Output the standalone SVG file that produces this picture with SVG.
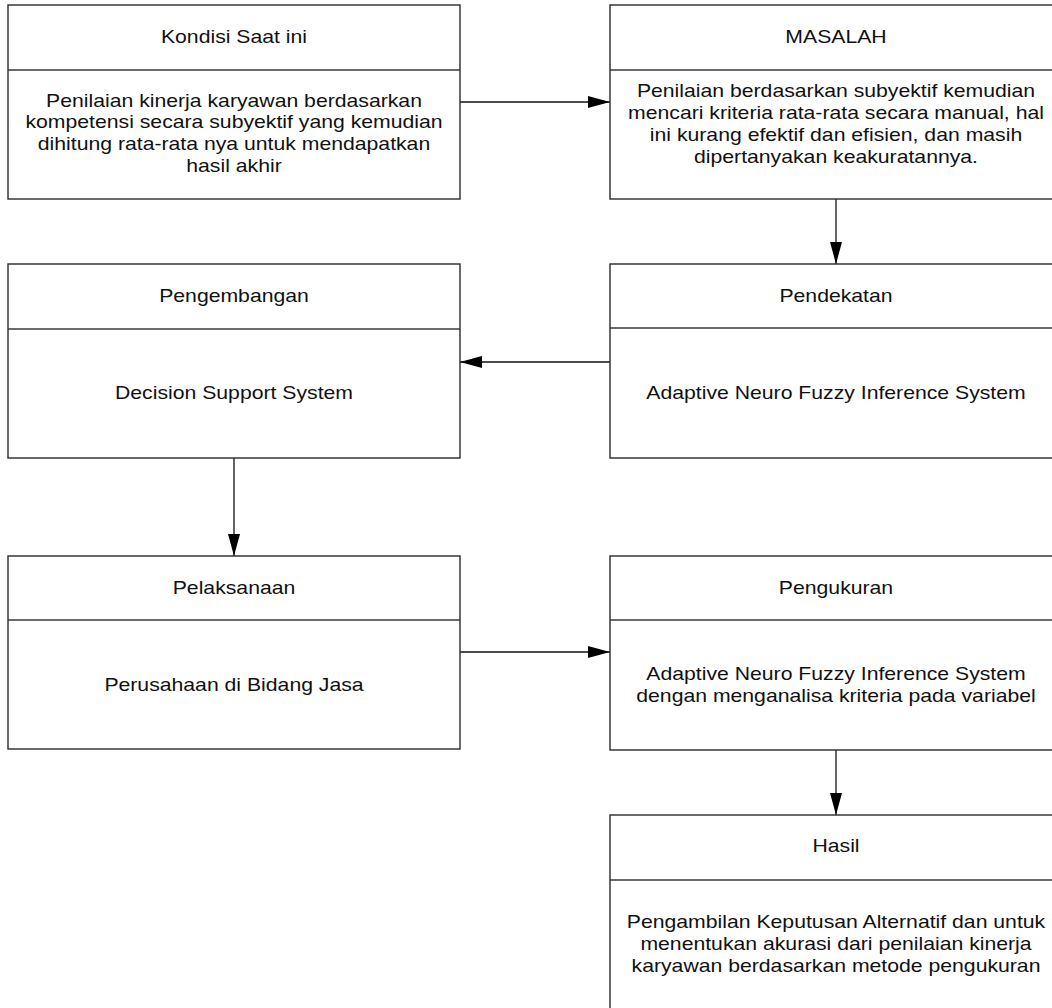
<svg xmlns="http://www.w3.org/2000/svg" width="1052" height="1008" viewBox="0 0 1052 1008">
<style>
.box{fill:#fff;stroke:#2a2a2a;stroke-width:1.4}
.div{stroke:#3a3a3a;stroke-width:1.4}
.t{font-family:"Liberation Sans",Arial,sans-serif;font-size:18.6px;fill:#111;text-anchor:middle}
.c{stroke:#111;stroke-width:1.3;fill:none}
</style>
<defs>
<marker id="ah" markerUnits="userSpaceOnUse" markerWidth="22" markerHeight="12" refX="22" refY="6" orient="auto">
<path d="M0,0 L22,6 L0,12 z" fill="#000"/>
</marker>
</defs>
<rect width="1052" height="1008" fill="#fff"/>
<g id="connectors">
<line class="c" x1="460" y1="102" x2="610" y2="102" marker-end="url(#ah)"/>
<line class="c" x1="836" y1="199" x2="836" y2="264" marker-end="url(#ah)"/>
<line class="c" x1="610" y1="362" x2="460" y2="362" marker-end="url(#ah)"/>
<line class="c" x1="234" y1="458" x2="234" y2="556" marker-end="url(#ah)"/>
<line class="c" x1="460" y1="652" x2="610" y2="652" marker-end="url(#ah)"/>
<line class="c" x1="836" y1="750" x2="836" y2="815" marker-end="url(#ah)"/>
</g>
<g id="kondisi">
<rect class="box" x="8" y="5" width="452" height="194"/>
<line class="div" x1="8" y1="70" x2="460" y2="70"/>
<g transform="translate(234 0) scale(1.14 1)">
<text class="t" x="0" y="43.3">Kondisi Saat ini</text>
<text class="t" x="0" y="106.7">Penilaian kinerja karyawan berdasarkan</text>
<text class="t" x="0" y="128.4">kompetensi secara subyektif yang kemudian</text>
<text class="t" x="0" y="150">dihitung rata-rata nya untuk mendapatkan</text>
<text class="t" x="0" y="171.7">hasil akhir</text>
</g>
</g>
<g id="masalah">
<rect class="box" x="610" y="5" width="452" height="194"/>
<line class="div" x1="610" y1="70" x2="1062" y2="70"/>
<g transform="translate(836 0) scale(1.14 1)">
<text class="t" x="0" y="43.3">MASALAH</text>
<text class="t" x="0" y="97.5">Penilaian berdasarkan subyektif kemudian</text>
<text class="t" x="0" y="119.2">mencari kriteria rata-rata secara manual, hal</text>
<text class="t" x="0" y="140.9">ini kurang efektif dan efisien, dan masih</text>
<text class="t" x="0" y="162.6">dipertanyakan keakuratannya.</text>
</g>
</g>
<g id="pengembangan">
<rect class="box" x="8" y="264" width="452" height="194"/>
<line class="div" x1="8" y1="329" x2="460" y2="329"/>
<g transform="translate(234 0) scale(1.14 1)">
<text class="t" x="0" y="301.7">Pengembangan</text>
<text class="t" x="0" y="399.3">Decision Support System</text>
</g>
</g>
<g id="pendekatan">
<rect class="box" x="610" y="264" width="452" height="194"/>
<line class="div" x1="610" y1="328" x2="1062" y2="328"/>
<g transform="translate(836 0) scale(1.14 1)">
<text class="t" x="0" y="301.7">Pendekatan</text>
<text class="t" x="0" y="399.3">Adaptive Neuro Fuzzy Inference System</text>
</g>
</g>
<g id="pelaksanaan">
<rect class="box" x="8" y="556" width="452" height="193"/>
<line class="div" x1="8" y1="620" x2="460" y2="620"/>
<g transform="translate(234 0) scale(1.14 1)">
<text class="t" x="0" y="594">Pelaksanaan</text>
<text class="t" x="0" y="690.7">Perusahaan di Bidang Jasa</text>
</g>
</g>
<g id="pengukuran">
<rect class="box" x="610" y="556" width="452" height="194"/>
<line class="div" x1="610" y1="620" x2="1062" y2="620"/>
<g transform="translate(836 0) scale(1.14 1)">
<text class="t" x="0" y="594">Pengukuran</text>
<text class="t" x="0" y="680">Adaptive Neuro Fuzzy Inference System</text>
<text class="t" x="0" y="701.7">dengan menganalisa kriteria pada variabel</text>
</g>
</g>
<g id="hasil">
<rect class="box" x="610" y="815" width="452" height="210"/>
<line class="div" x1="610" y1="880" x2="1062" y2="880"/>
<g transform="translate(836 0) scale(1.14 1)">
<text class="t" x="0" y="851.7">Hasil</text>
<text class="t" x="0" y="928.3">Pengambilan Keputusan Alternatif dan untuk</text>
<text class="t" x="0" y="950">menentukan akurasi dari penilaian kinerja</text>
<text class="t" x="0" y="971.7">karyawan berdasarkan metode pengukuran</text>
</g>
</g>
</svg>
